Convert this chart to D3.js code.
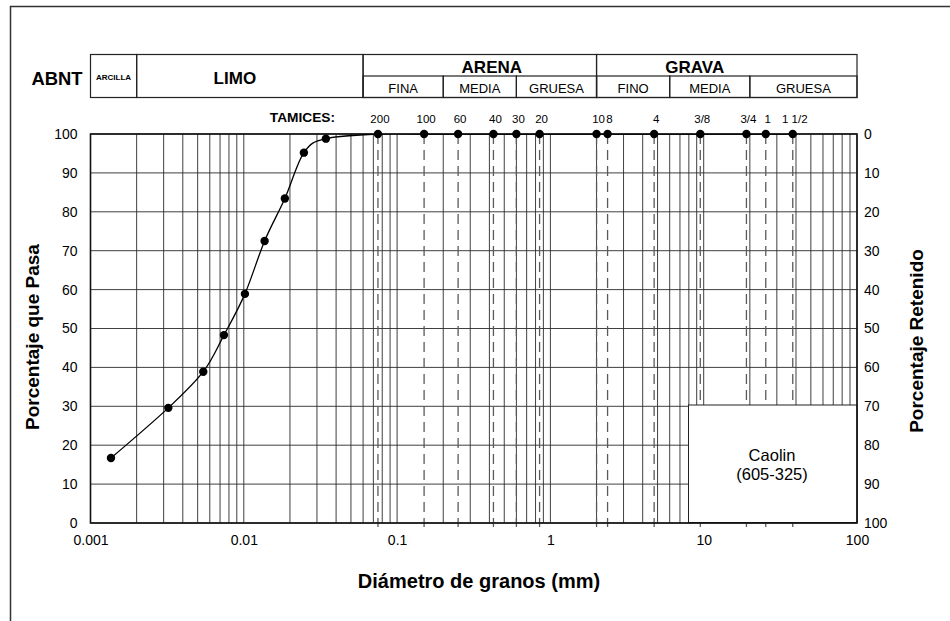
<!DOCTYPE html>
<meta charset="utf-8">
<style>
body { margin: 0; background: #fff; }
svg { font-family: "Liberation Sans", Arial, sans-serif; }
.grid line { stroke: #2a2a2a; stroke-width: 0.9; }
.sieve { stroke: #5a5a5a; stroke-width: 1.3; stroke-dasharray: 10,6; }
.axis text { font-size: 14px; fill: #000; }
.axis .domain { display: none; }
.cell { fill: none; stroke: #222; stroke-width: 1.2; }
</style>
<body>
<div id="chart"></div>
<script src="https://d3js.org/d3.v7.min.js"></script>
<script>
// hydrometer readings (diameter mm, % passing)
var hydroDiam = [0.00136, 0.00322, 0.00544, 0.00742, 0.01017, 0.01367, 0.01853, 0.02466, 0.0343];
var hydroPass = [16.7, 29.6, 38.9, 48.3, 58.9, 72.5, 83.4, 95.2, 98.8];

// sieves
var sieveNames = ["200", "100", "60", "40", "30", "20", "10", "8", "4", "3/8", "3/4", "1", "1 1/2"];
var sieveDiam = [0.075, 0.15, 0.25, 0.425, 0.6, 0.85, 2.0, 2.36, 4.75, 9.5, 19.0, 25.4, 38.1];
var sievePass = [100, 100, 100, 100, 100, 100, 100, 100, 100, 100, 100, 100, 100];

var yTicks = [0, 10, 20, 30, 40, 50, 60, 70, 80, 90, 100];
var xTicks = [0.001, 0.01, 0.1, 1, 10, 100];
var xTickLabels = ["0.001", "0.01", "0.1", "1", "10", "100"];

// ABNT classification
var soilClasses = ["ARCILLA", "LIMO", "ARENA", "GRAVA"];
var soilLimits = [[0.001, 0.002], [0.002, 0.06], [0.06, 2], [2, 100]];
var subClasses = ["FINA", "MEDIA", "GRUESA", "FINO", "MEDIA", "GRUESA"];
var subLimits = [[0.06, 0.2], [0.2, 0.6], [0.6, 2], [2, 6], [6, 20], [20, 100]];

var sampleName = ["Caolin", "(605-325)"];

var width = 950, height = 621;
var plotL = 90.5, plotR = 857, plotT = 134, plotB = 523;

var svg = d3.select("#chart").append("svg")
    .attr("width", width)
    .attr("height", height);

svg.append("rect").attr("width", width).attr("height", height).attr("fill", "#fff");

// outer frame
svg.append("rect")
    .attr("x", 10.5).attr("y", 6.5)
    .attr("width", 1000).attr("height", 700)
    .attr("fill", "none").attr("stroke", "#333").attr("stroke-width", 1.5);

var x = d3.scaleLog().domain([0.001, 100]).range([plotL, plotR]);
var y = d3.scaleLinear().domain([0, 100]).range([plotB, plotT]);
var yR = d3.scaleLinear().domain([0, 100]).range([plotT, plotB]);

// classification table
var tTop = 54.5, tMid = 76, tBot = 97.5;
var mainOffset = [0, -15, 12, -32];
var tbl = svg.append("g");

tbl.selectAll("rect.main")
  .data(soilLimits)
  .enter().append("rect")
    .attr("class", "cell")
    .attr("x", function(d) { return x(d[0]); })
    .attr("y", tTop)
    .attr("width", function(d) { return x(d[1]) - x(d[0]); })
    .attr("height", tBot - tTop);

tbl.selectAll("rect.sub")
  .data(subLimits)
  .enter().append("rect")
    .attr("class", "cell")
    .attr("x", function(d) { return x(d[0]); })
    .attr("y", tMid)
    .attr("width", function(d) { return x(d[1]) - x(d[0]); })
    .attr("height", tBot - tMid);

tbl.selectAll("text.main")
  .data(soilClasses)
  .enter().append("text")
    .attr("x", function(d, i) { return (x(soilLimits[i][0]) + x(soilLimits[i][1])) / 2 + mainOffset[i]; })
    .attr("y", function(d, i) { return i == 0 ? 80 : (i == 1 ? 83.5 : 73.3); })
    .attr("text-anchor", "middle")
    .attr("font-weight", "bold")
    .attr("font-size", function(d, i) { return i == 0 ? "8px" : "17px"; })
    .text(function(d) { return d; });

tbl.selectAll("text.sub")
  .data(subClasses)
  .enter().append("text")
    .attr("x", function(d, i) { return (x(subLimits[i][0]) + x(subLimits[i][1])) / 2; })
    .attr("y", 93.3)
    .attr("text-anchor", "middle")
    .attr("font-size", "13px")
    .text(function(d) { return d; });

svg.append("text")
    .attr("x", 57).attr("y", 85)
    .attr("text-anchor", "middle")
    .attr("font-weight", "bold").attr("font-size", "18.4px")
    .text("ABNT");

svg.append("text")
    .attr("x", 335).attr("y", 121.7)
    .attr("text-anchor", "end")
    .attr("font-weight", "bold").attr("font-size", "13.7px")
    .text("TAMICES:");

svg.append("g").selectAll("text")
  .data(sieveNames)
  .enter().append("text")
    .attr("x", function(d, i) { return x(sieveDiam[i]) + 2; })
    .attr("y", 123.3)
    .attr("text-anchor", "middle")
    .attr("font-size", "11.5px")
    .text(function(d) { return d; });

// grid
var grid = svg.append("g").attr("class", "grid");
grid.selectAll("line.v")
  .data(x.ticks())
  .enter().append("line")
    .attr("x1", function(d) { return x(d); })
    .attr("x2", function(d) { return x(d); })
    .attr("y1", plotT).attr("y2", plotB);
grid.selectAll("line.h")
  .data(yTicks)
  .enter().append("line")
    .attr("x1", plotL).attr("x2", plotR)
    .attr("y1", function(d) { return y(d); })
    .attr("y2", function(d) { return y(d); });

// sieve openings
svg.append("g").selectAll("line")
  .data(sieveDiam)
  .enter().append("line")
    .attr("class", "sieve")
    .attr("x1", function(d) { return x(d); })
    .attr("x2", function(d) { return x(d); })
    .attr("y1", plotT).attr("y2", plotB + 4);

// sample box
svg.append("rect")
    .attr("x", 688.5).attr("y", 405)
    .attr("width", plotR - 688.5).attr("height", 117.5)
    .attr("fill", "#fff").attr("stroke", "#222").attr("stroke-width", 1);
svg.append("g").selectAll("text")
  .data(sampleName)
  .enter().append("text")
    .attr("x", 772)
    .attr("y", function(d, i) { return 461 + i * 18.5; })
    .attr("text-anchor", "middle")
    .attr("font-size", "16.5px")
    .text(function(d) { return d; });

// plot frame
svg.append("rect")
    .attr("x", plotL).attr("y", plotT)
    .attr("width", plotR - plotL).attr("height", plotB - plotT)
    .attr("fill", "none").attr("stroke", "#111").attr("stroke-width", 1.6);

// axes
svg.append("g")
    .attr("class", "axis")
    .attr("transform", "translate(" + plotL + ",0)")
    .call(d3.axisLeft(y).tickValues(yTicks).tickSize(0).tickPadding(13));

svg.append("g")
    .attr("class", "axis")
    .attr("transform", "translate(" + plotR + ",0)")
    .call(d3.axisRight(yR).tickValues(yTicks).tickSize(0).tickPadding(7));

svg.append("g")
    .attr("class", "axis")
    .attr("transform", "translate(0," + plotB + ")")
    .call(d3.axisBottom(x).tickValues(xTicks).tickSize(0).tickPadding(12.5)
      .tickFormat(function(d, i) { return xTickLabels[i]; }));

// titles
svg.append("text")
    .attr("transform", "translate(39,337) rotate(-90)")
    .attr("text-anchor", "middle")
    .attr("font-weight", "bold").attr("font-size", "19px")
    .text("Porcentaje que Pasa");

svg.append("text")
    .attr("transform", "translate(923,341) rotate(-90)")
    .attr("text-anchor", "middle")
    .attr("font-weight", "bold").attr("font-size", "19px")
    .text("Porcentaje Retenido");

svg.append("text")
    .attr("x", 479).attr("y", 588)
    .attr("text-anchor", "middle")
    .attr("font-weight", "bold").attr("font-size", "20px")
    .text("Diámetro de granos (mm)");

// curve
var points = hydroDiam.map(function(d, i) { return [d, hydroPass[i]]; })
  .concat(sieveDiam.map(function(d, i) { return [d, sievePass[i]]; }));

svg.append("clipPath").attr("id", "plotclip")
  .append("rect")
    .attr("x", plotL).attr("y", plotT)
    .attr("width", plotR - plotL).attr("height", plotB - plotT);

var line = d3.line()
    .x(function(d) { return x(d[0]); })
    .y(function(d) { return y(d[1]); })
    .curve(d3.curveCardinal.tension(0));

svg.append("path")
    .datum(points)
    .attr("clip-path", "url(#plotclip)")
    .attr("d", line)
    .attr("fill", "none")
    .attr("stroke", "#000")
    .attr("stroke-width", 1.3);

svg.append("g").selectAll("circle")
  .data(points)
  .enter().append("circle")
    .attr("cx", function(d) { return x(d[0]); })
    .attr("cy", function(d) { return y(d[1]); })
    .attr("r", 4.2)
    .attr("fill", "#000");
</script>
</body>
